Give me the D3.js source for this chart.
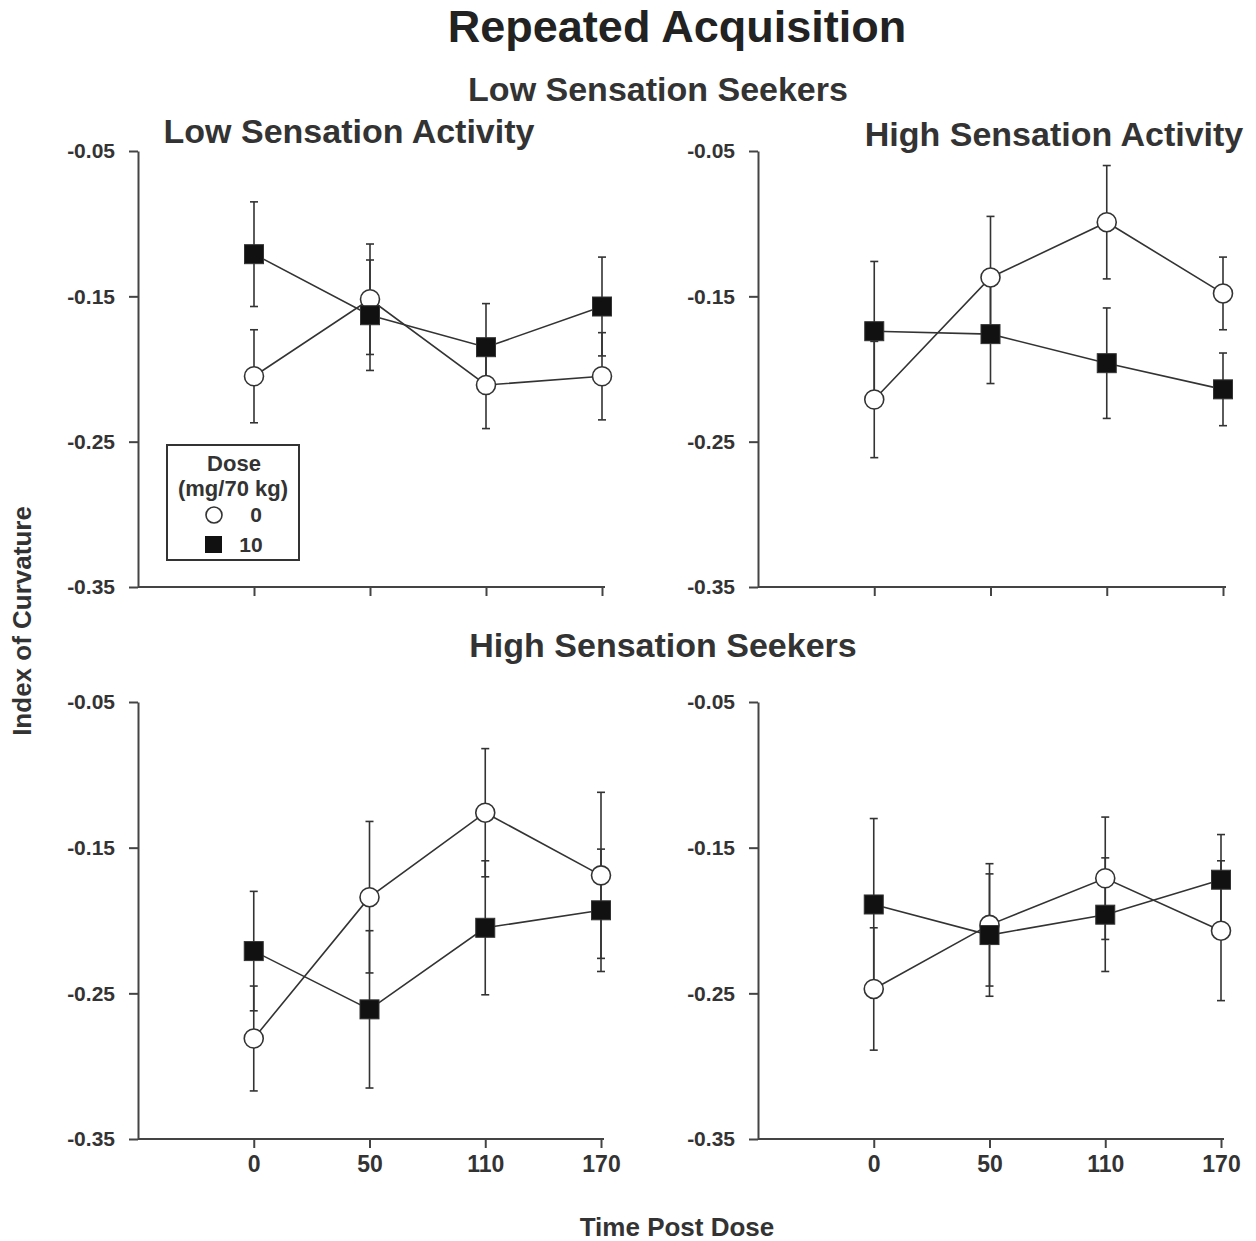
<!DOCTYPE html>
<html>
<head>
<meta charset="utf-8">
<script src="https://cdn.jsdelivr.net/npm/d3@7"></script>
<style>
  body { margin: 0; background: #fff; }
  svg { font-family: "Liberation Sans", Arial, Helvetica, sans-serif; font-weight: bold; }
  .tick text { fill: #333; }
</style>
</head>
<body>
<div id="chart"></div>
<script>
'use strict';

// time points after dose (minutes)
const times = ['0', '50', '110', '170'];
const yTicks = [-0.05, -0.15, -0.25, -0.35];
const doses = ['0', '10'];

// Low sensation seekers, low sensation activity
const lssLowPlacebo = [-0.205, -0.152, -0.211, -0.205];
const lssLowPlaceboSE = [0.032, 0.038, 0.030, 0.030];
const lssLowDrug = [-0.121, -0.163, -0.185, -0.157];
const lssLowDrugSE = [0.036, 0.038, 0.030, 0.034];

// Low sensation seekers, high sensation activity
const lssHighPlacebo = [-0.221, -0.137, -0.099, -0.148];
const lssHighPlaceboSE = [0.040, 0.042, 0.039, 0.025];
const lssHighDrug = [-0.174, -0.176, -0.196, -0.214];
const lssHighDrugSE = [0.048, 0.034, 0.038, 0.025];

// High sensation seekers, low sensation activity
const hssLowPlacebo = [-0.281, -0.184, -0.126, -0.169];
const hssLowPlaceboSE = [0.036, 0.052, 0.044, 0.057];
const hssLowDrug = [-0.221, -0.261, -0.205, -0.193];
const hssLowDrugSE = [0.041, 0.054, 0.046, 0.042];

// High sensation seekers, high sensation activity
const hssHighPlacebo = [-0.247, -0.203, -0.171, -0.207];
const hssHighPlaceboSE = [0.042, 0.042, 0.042, 0.048];
const hssHighDrug = [-0.189, -0.210, -0.196, -0.172];
const hssHighDrugSE = [0.059, 0.042, 0.039, 0.031];

(function() {

    let width = 1256, height = 1241;
    let ink = '#333', axisInk = '#444';

    let svg = d3.select('#chart')
        .append('svg')
        .attr('width', width)
        .attr('height', height);

    // layout of the four panels: y axis position, last point, top and bottom of y range
    let panels = [
        { left: 138, right: 602, top: 151, bottom: 587, title: 'Low Sensation Activity', tx: 349, ty: 143,
          placebo: lssLowPlacebo, placeboSE: lssLowPlaceboSE, drug: lssLowDrug, drugSE: lssLowDrugSE, legend: true, xlabels: false },
        { left: 758, right: 1223, top: 151, bottom: 587, title: 'High Sensation Activity', tx: 1054, ty: 146,
          placebo: lssHighPlacebo, placeboSE: lssHighPlaceboSE, drug: lssHighDrug, drugSE: lssHighDrugSE, legend: false, xlabels: false },
        { left: 138, right: 601, top: 702, bottom: 1139, title: null,
          placebo: hssLowPlacebo, placeboSE: hssLowPlaceboSE, drug: hssLowDrug, drugSE: hssLowDrugSE, legend: false, xlabels: true },
        { left: 758, right: 1221, top: 702, bottom: 1139, title: null,
          placebo: hssHighPlacebo, placeboSE: hssHighPlaceboSE, drug: hssHighDrug, drugSE: hssHighDrugSE, legend: false, xlabels: true }
    ];

    // titles
    svg.append('text').attr('x', 677).attr('y', 42)
        .attr('text-anchor', 'middle').style('font-size', '45px').attr('fill', '#222')
        .text('Repeated Acquisition');
    svg.append('text').attr('x', 658).attr('y', 101)
        .attr('text-anchor', 'middle').style('font-size', '34px').attr('fill', ink)
        .text('Low Sensation Seekers');
    svg.append('text').attr('x', 663).attr('y', 657)
        .attr('text-anchor', 'middle').style('font-size', '34px').attr('fill', ink)
        .text('High Sensation Seekers');
    svg.append('text').attr('x', 677).attr('y', 1236)
        .attr('text-anchor', 'middle').style('font-size', '26px').attr('fill', ink)
        .text('Time Post Dose');
    svg.append('text')
        .attr('transform', 'translate(31,621) rotate(-90)')
        .attr('text-anchor', 'middle').style('font-size', '26px').attr('fill', ink)
        .text('Index of Curvature');

    panels.forEach(function(p) {
        let x = d3.scaleLinear().domain([-1, times.length - 1]).range([p.left, p.right]);
        let y = d3.scaleLinear().domain([-0.35, -0.05]).range([p.bottom, p.top]);
        let g = svg.append('g');

        if (p.title) {
            g.append('text').attr('x', p.tx).attr('y', p.ty)
                .attr('text-anchor', 'middle').style('font-size', '34px').attr('fill', ink)
                .text(p.title);
        }

        let yAxis = g.append('g')
            .attr('transform', 'translate(' + p.left + ',0)')
            .call(d3.axisLeft(y).tickValues(yTicks).tickFormat(d => d.toFixed(2))
                .tickSize(9).tickSizeOuter(0).tickPadding(14));
        yAxis.selectAll('text').style('font-size', '21px');

        let xAxis = g.append('g')
            .attr('transform', 'translate(0,' + p.bottom + ')')
            .call(d3.axisBottom(x).tickValues(d3.range(times.length))
                .tickFormat(i => p.xlabels ? times[i] : '')
                .tickSize(9).tickSizeOuter(0).tickPadding(8));
        xAxis.selectAll('text').style('font-size', '23px');
        xAxis.select('.domain').attr('d', 'M' + p.left + ',0H' + (p.right + 3));

        g.selectAll('.domain, .tick line').attr('stroke', axisInk).attr('stroke-width', 2);

        let series = [
            { vals: p.placebo, se: p.placeboSE, kind: 'circle' },
            { vals: p.drug, se: p.drugSE, kind: 'square' }
        ];

        let line = d3.line().x((d, i) => x(i)).y(d => y(d));

        // error bars first so the markers sit on top
        series.forEach(function(s) {
            let eb = g.append('g').attr('stroke', ink).attr('stroke-width', 1.6);
            s.vals.forEach(function(v, i) {
                let cx = x(i), y1 = y(v + s.se[i]), y2 = y(v - s.se[i]);
                eb.append('line').attr('x1', cx).attr('x2', cx).attr('y1', y1).attr('y2', y2);
                eb.append('line').attr('x1', cx - 4).attr('x2', cx + 4).attr('y1', y1).attr('y2', y1);
                eb.append('line').attr('x1', cx - 4).attr('x2', cx + 4).attr('y1', y2).attr('y2', y2);
            });
        });

        series.forEach(function(s) {
            g.append('path').datum(s.vals)
                .attr('d', line)
                .attr('fill', 'none').attr('stroke', ink).attr('stroke-width', 1.6);
        });

        series.forEach(function(s) {
            if (s.kind === 'circle') {
                g.selectAll(null).data(s.vals).enter().append('circle')
                    .attr('cx', (d, i) => x(i)).attr('cy', d => y(d)).attr('r', 9.5)
                    .attr('fill', '#fff').attr('stroke', ink).attr('stroke-width', 1.6);
            } else {
                g.selectAll(null).data(s.vals).enter().append('rect')
                    .attr('x', (d, i) => x(i) - 9.5).attr('y', d => y(d) - 9.5)
                    .attr('width', 19).attr('height', 19)
                    .attr('fill', '#111').attr('stroke', ink).attr('stroke-width', 1);
            }
        });

        if (p.legend) {
            let lg = g.append('g').attr('transform', 'translate(167,445)');
            lg.append('rect').attr('width', 132).attr('height', 115)
                .attr('fill', '#fff').attr('stroke', ink).attr('stroke-width', 2);
            lg.append('text').attr('x', 67).attr('y', 26).attr('text-anchor', 'middle')
                .style('font-size', '22px').attr('fill', ink).text('Dose');
            lg.append('text').attr('x', 66).attr('y', 51).attr('text-anchor', 'middle')
                .style('font-size', '22px').attr('fill', ink).text('(mg/70 kg)');
            lg.append('circle').attr('cx', 47).attr('cy', 70).attr('r', 8)
                .attr('fill', '#fff').attr('stroke', ink).attr('stroke-width', 1.6);
            lg.append('text').attr('x', 89).attr('y', 77).attr('text-anchor', 'middle')
                .style('font-size', '21px').attr('fill', ink).text(doses[0]);
            lg.append('rect').attr('x', 38).attr('y', 91).attr('width', 17).attr('height', 17)
                .attr('fill', '#111');
            lg.append('text').attr('x', 84).attr('y', 107).attr('text-anchor', 'middle')
                .style('font-size', '21px').attr('fill', ink).text(doses[1]);
        }
    });

})();
</script>
</body>
</html>
